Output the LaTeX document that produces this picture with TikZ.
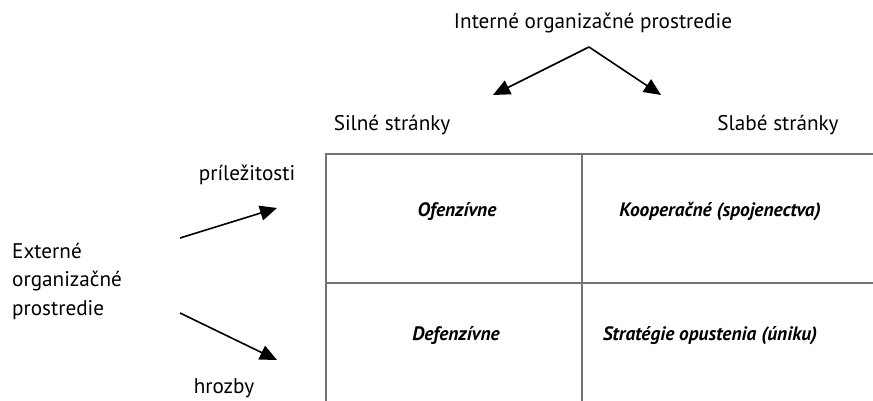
\documentclass[tikz,border=0pt]{standalone}
\usepackage{fontspec}
\setmainfont{PT Sans}
\usetikzlibrary{arrows.meta}
\begin{document}
\begin{tikzpicture}[x=1pt,y=-1pt,
  lbl/.style={inner sep=0pt,font=\fontsize{21.2}{28.5}\selectfont},
  cell/.style={inner sep=0pt,font=\fontsize{19.4}{24}\selectfont\bfseries\itshape},
  gridline/.style={draw=black!55,line width=1.5pt},
  arr/.style={draw=black,line width=1.6pt,-{Triangle[length=17pt,width=15pt]}}]
\useasboundingbox (0,0) rectangle (873,401);

% headings
\node[lbl] (intern) at (593,23) {Interné organizačné prostredie};
\node[lbl] (silne) at (392,125) {Silné stránky};
\node[lbl] (slabe) at (778,125) {Slabé stránky};
\node[lbl] (prile) at (247,175) {príležitosti};
\node[lbl] (hrozby) at (224,388) {hrozby};
\node[lbl,anchor=west,align=left] (extern) at (12,281)
  {Externé\\organizačné\\prostredie};

% matrix grid (open to the right and bottom)
\coordinate (gTL) at (326,154);
\coordinate (gTR) at (873,154);
\coordinate (gBL) at (326,401);
\coordinate (gML) at (326,283);
\coordinate (gMR) at (873,283);
\coordinate (gMT) at (582,154);
\coordinate (gMB) at (582,401);
\draw[gridline] (gBL) -- (gTL) -- (gTR);
\draw[gridline] (gML) -- (gMR);
\draw[gridline] (gMT) -- (gMB);

% cells
\node[cell] (ofenz) at (457,212) {Ofenzívne};
\node[cell] (koop) at (720,212) {Kooperačné (spojenectva)};
\node[cell] (defenz) at (456,336) {Defenzívne};
\node[cell] (strat) at (710,336) {Stratégie opustenia (úniku)};

% arrows
\coordinate (apex) at (589,47);
\coordinate (tipL) at (493,95);
\coordinate (tipR) at (661,95);
\draw[arr] (apex) -- (tipL);
\draw[arr] (apex) -- (tipR);
\coordinate (eUp) at (180,238);
\coordinate (eUpTip) at (277,208);
\coordinate (eDn) at (180,313);
\coordinate (eDnTip) at (277,360);
\draw[arr] (eUp) -- (eUpTip);
\draw[arr] (eDn) -- (eDnTip);
\end{tikzpicture}
\end{document}
